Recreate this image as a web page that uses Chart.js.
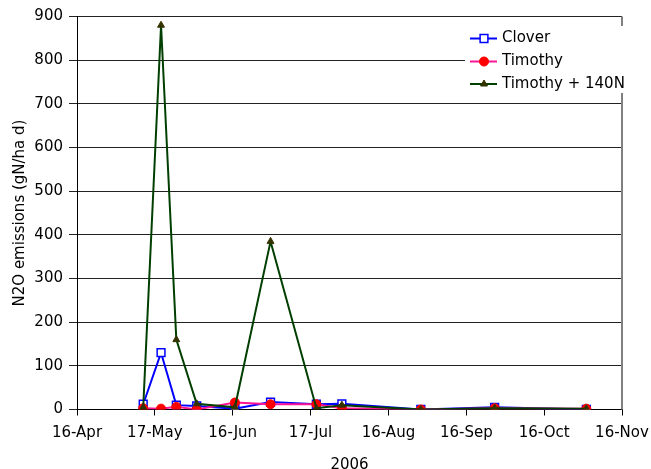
<!DOCTYPE html>
<html>
<head>
<meta charset="utf-8">
<script src="https://cdn.jsdelivr.net/npm/chart.js@4"></script>
<style>
  html, body { margin: 0; padding: 0; background: #fff; }
  #wrap { width: 651px; height: 469px; position: relative; }
</style>
</head>
<body>
<div id="wrap"><canvas id="c" width="651" height="469"></canvas></div>
<script>
// ---- data ----
const axisStart = '2006-04-16';
const axisEnd = '2006-11-16';
const xTickLabels = ['16-Apr', '17-May', '16-Jun', '17-Jul', '16-Aug', '16-Sep', '16-Oct', '16-Nov'];
const sampleDates = ['2006-05-12', '2006-05-19', '2006-05-25', '2006-06-02', '2006-06-17', '2006-07-01',
                     '2006-07-19', '2006-07-29', '2006-08-29', '2006-09-27', '2006-11-02'];
const clover = [12, 130, 10, 8, 2, 17, 12, 13, 0, 5, 0];
const timothy = [3, 2, 6, 0, 16, 12, 12, 3, 0, 3, 2];
const timothy140N = [5, 880, 160, 13, 5, 385, 3, 10, 0, 3, 2];
const seriesNames = ['Clover', 'Timothy', 'Timothy + 140N'];
const xTitle = '2006';
const yTitle = 'N2O emissions (gN/ha d)';

// ---- helpers ----
const DAY = 86400000;
function dayOffset(s) { return (Date.parse(s + 'T00:00:00Z') - Date.parse(axisStart + 'T00:00:00Z')) / DAY; }
const xMax = dayOffset(axisEnd);
function pts(vals) { return vals.map((v, i) => ({ x: dayOffset(sampleDates[i]), y: v })); }

const FONT = 'DejaVu Sans';
const styles = [
  { line: '#0000FF', fill: '#FFFFFF', border: '#0000FF', style: 'rect', r: 5.5, bw: 1.5 },
  { line: '#FF1493', fill: '#FF0000', border: '#FF0000', style: 'circle', r: 4.5, bw: 1 },
  { line: '#003F00', fill: '#333300', border: '#333300', style: 'triangle', r: 4, bw: 1 }
];
const seriesData = [clover, timothy, timothy140N];

const insideLegend = {
  id: 'insideLegend',
  beforeDatasetsDraw(chart) {
    const { ctx, chartArea } = chart;
    ctx.save();
    ctx.strokeStyle = '#808080';
    ctx.lineWidth = 2;
    ctx.beginPath();
    ctx.moveTo(chartArea.right, chartArea.top);
    ctx.lineTo(chartArea.right, chartArea.bottom);
    ctx.stroke();
    ctx.restore();
  },
  afterDatasetsDraw(chart) {
    const { ctx } = chart;
    ctx.save();
    ctx.fillStyle = '#FFFFFF';
    ctx.fillRect(465, 26, 162, 67);
    const ys = [38.5, 61.5, 84];
    seriesNames.forEach((name, i) => {
      const st = styles[i];
      const y = ys[i];
      ctx.strokeStyle = st.line;
      ctx.lineWidth = 2;
      ctx.beginPath();
      ctx.moveTo(470, y);
      ctx.lineTo(497, y);
      ctx.stroke();
      ctx.fillStyle = st.fill;
      ctx.strokeStyle = st.border;
      ctx.lineWidth = st.bw;
      ctx.beginPath();
      if (st.style === 'rect') {
        const s = st.r * Math.SQRT1_2;
        ctx.rect(484 - s, y - s, 2 * s, 2 * s);
      } else if (st.style === 'circle') {
        ctx.arc(484, y, st.r, 0, Math.PI * 2);
      } else {
        ctx.moveTo(484, y - st.r);
        ctx.lineTo(484 + st.r * 0.866, y + st.r * 0.5);
        ctx.lineTo(484 - st.r * 0.866, y + st.r * 0.5);
        ctx.closePath();
      }
      ctx.fill();
      ctx.stroke();
      ctx.fillStyle = '#000';
      ctx.font = '15px "' + FONT + '"';
      ctx.textBaseline = 'middle';
      ctx.textAlign = 'left';
      ctx.fillText(name, 502, y);
    });
    ctx.restore();
  }
};

new Chart(document.getElementById('c'), {
  type: 'line',
  data: {
    datasets: seriesData.map((vals, i) => ({
      label: seriesNames[i],
      data: pts(vals),
      borderColor: styles[i].line,
      borderWidth: 2,
      backgroundColor: styles[i].fill,
      pointBackgroundColor: styles[i].fill,
      pointBorderColor: styles[i].border,
      pointBorderWidth: styles[i].bw,
      pointStyle: styles[i].style,
      pointRadius: styles[i].r,
      pointHoverRadius: styles[i].r,
      tension: 0,
      fill: false,
      order: 3 - i
    }))
  },
  options: {
    responsive: false,
    animation: false,
    events: [],
    layout: { padding: { top: 16.5, right: 29, left: 0, bottom: 0 } },
    plugins: { legend: { display: false }, tooltip: { enabled: false } },
    scales: {
      x: {
        type: 'linear',
        min: 0,
        max: xMax,
        afterBuildTicks(scale) {
          scale.ticks = xTickLabels.map((l, i) => ({ value: i * xMax / (xTickLabels.length - 1) }));
        },
        afterFit(scale) { scale.height = 59.5; scale.paddingLeft = 0; scale.paddingRight = 0; },
        ticks: {
          autoSkip: false,
          maxRotation: 0,
          padding: 9,
          color: '#000',
          font: { family: FONT, size: 15 },
          callback: (v, i) => xTickLabels[i]
        },
        grid: { drawOnChartArea: false, drawTicks: true, tickLength: 6, color: '#000', lineWidth: 1 },
        border: { display: true, color: '#000', width: 1 },
        title: {
          display: true, text: xTitle, color: '#000',
          font: { family: FONT, size: 15 },
          padding: { top: 0, bottom: -5 }
        }
      },
      y: {
        min: 0,
        max: 900,
        afterFit(scale) { scale.width = 77; scale.paddingTop = 0; scale.paddingBottom = 0; },
        ticks: {
          stepSize: 100,
          padding: 6,
          color: '#000',
          font: { family: FONT, size: 15 }
        },
        grid: { color: '#222', lineWidth: 1, tickLength: 8, drawTicks: true },
        border: { display: true, color: '#000', width: 1 },
        title: {
          display: true, text: yTitle, color: '#000',
          font: { family: FONT, size: 15 },
          padding: { top: 11, bottom: 0 }
        }
      }
    }
  },
  plugins: [insideLegend]
});
</script>
</body>
</html>
